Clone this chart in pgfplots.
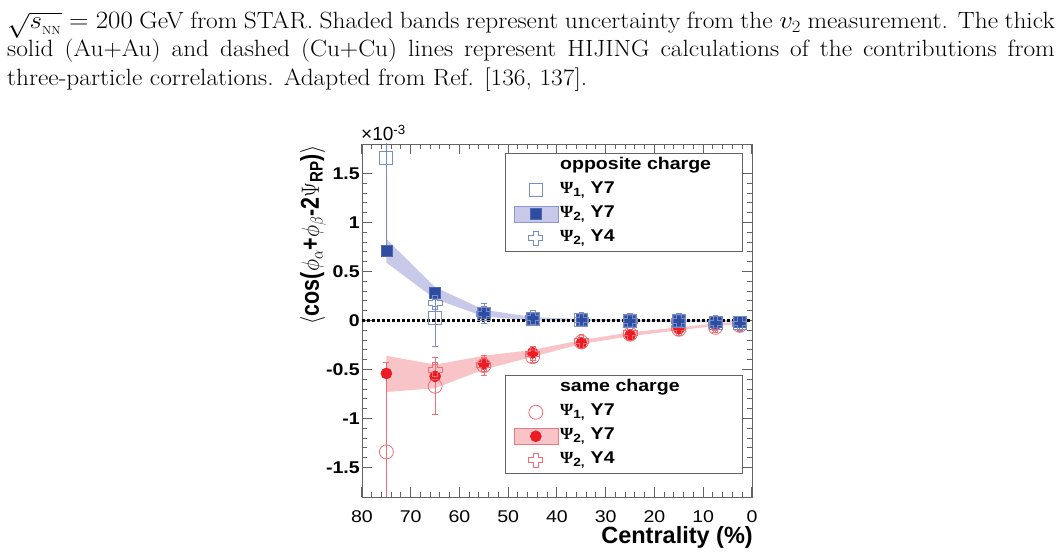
\documentclass[border=0pt]{standalone}
\usepackage{fontspec}
\usepackage{pgfplots}
\pgfplotsset{compat=1.18}
\newfontfamily\hv{Liberation Sans}
\newfontfamily\hvw[FakeStretch=1.15]{Liberation Sans}
\newfontfamily\sym{Liberation Serif}
\definecolor{bfill}{RGB}{46,77,160}
\definecolor{bline}{RGB}{120,140,200}
\definecolor{bband}{RGB}{200,200,232}
\definecolor{bbandedge}{RGB}{140,150,210}
\definecolor{rfill}{RGB}{237,28,36}
\definecolor{rline}{RGB}{240,110,115}
\definecolor{rband}{RGB}{248,196,200}
\definecolor{rbandedge}{RGB}{240,120,125}
\definecolor{axgray}{RGB}{100,100,100}
\pgfdeclareplotmark{ocross}{%
  \pgfpathmoveto{\pgfqpoint{-0.35\pgfplotmarksize}{\pgfplotmarksize}}%
  \pgfpathlineto{\pgfqpoint{0.35\pgfplotmarksize}{\pgfplotmarksize}}%
  \pgfpathlineto{\pgfqpoint{0.35\pgfplotmarksize}{0.35\pgfplotmarksize}}%
  \pgfpathlineto{\pgfqpoint{\pgfplotmarksize}{0.35\pgfplotmarksize}}%
  \pgfpathlineto{\pgfqpoint{\pgfplotmarksize}{-0.35\pgfplotmarksize}}%
  \pgfpathlineto{\pgfqpoint{0.35\pgfplotmarksize}{-0.35\pgfplotmarksize}}%
  \pgfpathlineto{\pgfqpoint{0.35\pgfplotmarksize}{-\pgfplotmarksize}}%
  \pgfpathlineto{\pgfqpoint{-0.35\pgfplotmarksize}{-\pgfplotmarksize}}%
  \pgfpathlineto{\pgfqpoint{-0.35\pgfplotmarksize}{-0.35\pgfplotmarksize}}%
  \pgfpathlineto{\pgfqpoint{-\pgfplotmarksize}{-0.35\pgfplotmarksize}}%
  \pgfpathlineto{\pgfqpoint{-\pgfplotmarksize}{0.35\pgfplotmarksize}}%
  \pgfpathlineto{\pgfqpoint{-0.35\pgfplotmarksize}{0.35\pgfplotmarksize}}%
  \pgfpathclose\pgfusepathqstroke}
\pgfplotsset{
  wideleg/.style={legend image code/.code={\draw[mark repeat=2,mark phase=2,##1] plot coordinates {(0pt,0pt)(22pt,0pt)(44pt,0pt)};}},
  bandleg/.style 2 args={legend image code/.code={\filldraw[fill=#1,draw=#2,line width=0.6pt] (0pt,-8pt) rectangle (44pt,8pt);\draw[mark repeat=2,mark phase=2,##1] plot coordinates {(0pt,0pt)(22pt,0pt)(44pt,0pt)};}},
  myframe/.style={at={(362pt,60pt)}, anchor=south west, scale only axis, width=390pt, height=353pt,
    xmin=0, xmax=80, x dir=reverse, ymin=-1.8, ymax=1.8, clip=true,
    legend cell align=left},
  legbox/.style={legend style={anchor=north west, draw=axgray, line width=0.8pt, fill=white,
    font=\hvw\bfseries\fontsize{17}{19}\selectfont, inner xsep=8pt, inner ysep=1pt, row sep=0pt,
    nodes={text height=11pt, text depth=4pt, inner ysep=4.5pt}}},
  ebar/.style={error bars/.cd, y dir=both, y explicit, error bar style={#1, line width=0.7pt},
    error mark options={rotate=90, #1, mark size=3pt, line width=0.7pt}, /pgfplots/.cd},
}
\begin{document}
\begin{tikzpicture}
\useasboundingbox (0pt,0pt) rectangle (1061pt,557pt);
% caption
\node[anchor=base west, inner sep=0, xscale=1.08] at (7pt,528.5pt) {\fontsize{23.5}{29}\selectfont\makebox[970pt][s]{$\sqrt{s_{_{\rm NN}}}=200$ GeV from STAR. Shaded bands represent uncertainty from the $v_2$ measurement. The thick}};
\node[anchor=base west, inner sep=0, xscale=1.08] at (7pt,500.5pt) {\fontsize{23.5}{29}\selectfont\makebox[970pt][s]{solid (Au+Au) and dashed (Cu+Cu) lines represent HIJING calculations of the contributions from}};
\node[anchor=base west, inner sep=0, xscale=1.08] at (7pt,471.5pt) {\fontsize{23.5}{29}\selectfont three-particle correlations. Adapted from Ref. [136, 137].};

% red (same charge) data drawn underneath
\begin{axis}[myframe, legbox, hide axis,
  legend style={at={(0.367,0.346)}},
]
\addplot[fill=rband, draw=none, forget plot] coordinates {
 (75,-0.36)(65,-0.45)(55,-0.36)(45,-0.30)(35,-0.20)(25,-0.12)(15,-0.07)(7.5,-0.03)(2.5,-0.015)
 (2.5,-0.035)(7.5,-0.055)(15,-0.10)(25,-0.16)(35,-0.24)(45,-0.37)(55,-0.50)(65,-0.69)(75,-0.73)} -- cycle;
\addplot[forget plot, only marks, mark=*, mark size=5.5pt, mark options={fill=rfill, draw=rfill, line width=0.6pt}, ebar=rline]
 table[row sep=\\, x=x, y=y, y error=e] {x y e\\ 75 -0.54 0.03\\ 65 -0.57 0.03\\ 55 -0.44 0.03\\ 45 -0.33 0.03\\ 35 -0.23 0.03\\ 25 -0.15 0.03\\ 15 -0.085 0.03\\ 7.5 -0.04 0.03\\ 2.5 -0.02 0.03\\};
\addplot[forget plot, only marks, mark=o, mark size=7pt, mark options={draw=rline, line width=0.8pt}, ebar=rline]
 table[row sep=\\, x=x, y=y, y error=e] {x y e\\ 75 -1.34 0.91\\ 65 -0.67 0.29\\ 55 -0.46 0.10\\ 45 -0.37 0.06\\ 35 -0.22 0.04\\ 25 -0.14 0.04\\ 15 -0.09 0.04\\ 7.5 -0.07 0.05\\ 2.5 -0.05 0.05\\};
\addplot[forget plot, only marks, mark=ocross, mark size=7pt, mark options={draw=rline, line width=0.8pt}, ebar=rline]
 table[row sep=\\, x=x, y=y, y error=e] {x y e\\ 65 -0.50 0.05\\ 55 -0.45 0.05\\ 45 -0.34 0.04\\ 35 -0.21 0.04\\ 25 -0.13 0.04\\ 15 -0.08 0.04\\ 7.5 -0.05 0.05\\ 2.5 -0.04 0.05\\};
\addlegendimage{empty legend}
\addlegendentry{\makebox[172pt][l]{same charge}}
\addlegendimage{only marks, mark=o, mark size=7pt, mark options={draw=rline, line width=0.8pt}, wideleg}
\addlegendentry{{\sym Ψ}\textsubscript{1,} Y7}
\addlegendimage{only marks, mark=*, mark size=5.5pt, mark options={fill=rfill, draw=rfill, line width=0.6pt}, bandleg={rband}{rbandedge}}
\addlegendentry{{\sym Ψ}\textsubscript{2,} Y7}
\addlegendimage{only marks, mark=ocross, mark size=7pt, mark options={draw=rline, line width=0.8pt}, wideleg}
\addlegendentry{{\sym Ψ}\textsubscript{2,} Y4}
\end{axis}

% blue (opposite charge) data, frame and ticks
\begin{axis}[myframe, legbox,
  legend style={at={(0.367,0.975)}},
  xtick={0,10,20,30,40,50,60,70,80}, xticklabels={0,10,20,30,40,50,60,70,80},
  minor x tick num=4, minor y tick num=4,
  ytick={-1.5,-1,-0.5,0,0.5,1,1.5}, yticklabels={-1.5,-1,-0.5,0,0.5,1,1.5},
  major tick length=10pt, minor tick length=5pt,
  every tick/.append style={axgray, line width=1pt},
  axis line style={axgray, line width=0.9pt},
  xticklabel style={font=\hvw\fontsize{17}{17}\selectfont, yshift=-10pt},
  yticklabel style={font=\hvw\bfseries\fontsize{17}{17}\selectfont, inner sep=2pt},
]
\addplot[fill=bband, draw=none, forget plot] coordinates {
 (75,0.83)(65,0.34)(55,0.11)(45,0.035)(35,0.015)(25,0.01)(15,0.01)(7.5,0.005)(2.5,0.0)
 (2.5,-0.02)(7.5,-0.02)(15,-0.015)(25,-0.01)(35,-0.005)(45,0.0)(55,0.04)(65,0.22)(75,0.59)} -- cycle;
\addplot[black, line width=2.5pt, dash pattern=on 3pt off 2pt, forget plot] coordinates {(80,0) (0,0)};
\addplot[forget plot, only marks, mark=square*, mark size=5.5pt, mark options={fill=bfill, draw=bfill!85!white, line width=0.6pt}, ebar=bline]
 table[row sep=\\, x=x, y=y, y error=e] {x y e\\ 75 0.71 0.02\\ 65 0.28 0.02\\ 55 0.08 0.02\\ 45 0.02 0.02\\ 35 0.01 0.02\\ 25 0.00 0.02\\ 15 0.00 0.02\\ 7.5 -0.01 0.03\\ 2.5 -0.01 0.03\\};
\addplot[forget plot, only marks, mark=square, mark size=6.5pt, mark options={draw=bline, line width=0.8pt}, ebar=bline]
 table[row sep=\\, x=x, y=y, y error=e] {x y e\\ 75 1.66 0.93\\ 65 0.03 0.29\\ 55 0.07 0.10\\ 45 0.02 0.05\\ 35 0.01 0.04\\ 25 0.00 0.03\\ 15 0.00 0.03\\ 7.5 -0.02 0.04\\ 2.5 -0.02 0.04\\};
\addplot[forget plot, only marks, mark=ocross, mark size=7pt, mark options={draw=bline, line width=0.8pt}, ebar=bline]
 table[row sep=\\, x=x, y=y, y error=e] {x y e\\ 65 0.18 0.04\\ 55 0.07 0.04\\ 45 0.03 0.03\\ 35 0.01 0.03\\ 25 0.00 0.03\\ 15 0.00 0.03\\ 7.5 -0.02 0.04\\ 2.5 -0.03 0.04\\};
\addlegendimage{empty legend}
\addlegendentry{\makebox[172pt][l]{opposite charge}}
\addlegendimage{only marks, mark=square, mark size=6.5pt, mark options={draw=bline, line width=0.8pt}, wideleg}
\addlegendentry{{\sym Ψ}\textsubscript{1,} Y7}
\addlegendimage{only marks, mark=square*, mark size=5.5pt, mark options={fill=bfill, draw=bfill!85!white, line width=0.6pt}, bandleg={bband}{bbandedge}}
\addlegendentry{{\sym Ψ}\textsubscript{2,} Y7}
\addlegendimage{only marks, mark=ocross, mark size=7pt, mark options={draw=bline, line width=0.8pt}, wideleg}
\addlegendentry{{\sym Ψ}\textsubscript{2,} Y4}
\end{axis}

% axis annotations
\node[anchor=west, inner sep=0, font=\hv\fontsize{19}{19}\selectfont] at (361pt,424pt) {×10\textsuperscript{-3}};
\node[anchor=east, inner sep=0, font=\hv\bfseries\fontsize{23.5}{24}\selectfont] at (753pt,20pt) {Centrality (\%)};
\node[xscale=1.2, rotate=90, inner sep=0, font=\hv\bfseries\fontsize{21.5}{22}\selectfont] at (313pt,322pt)
  {$\langle$cos($\phi_{\alpha}$+$\phi_{\beta}$-2$\Psi$\textsubscript{RP})$\rangle$};
\end{tikzpicture}
\end{document}
